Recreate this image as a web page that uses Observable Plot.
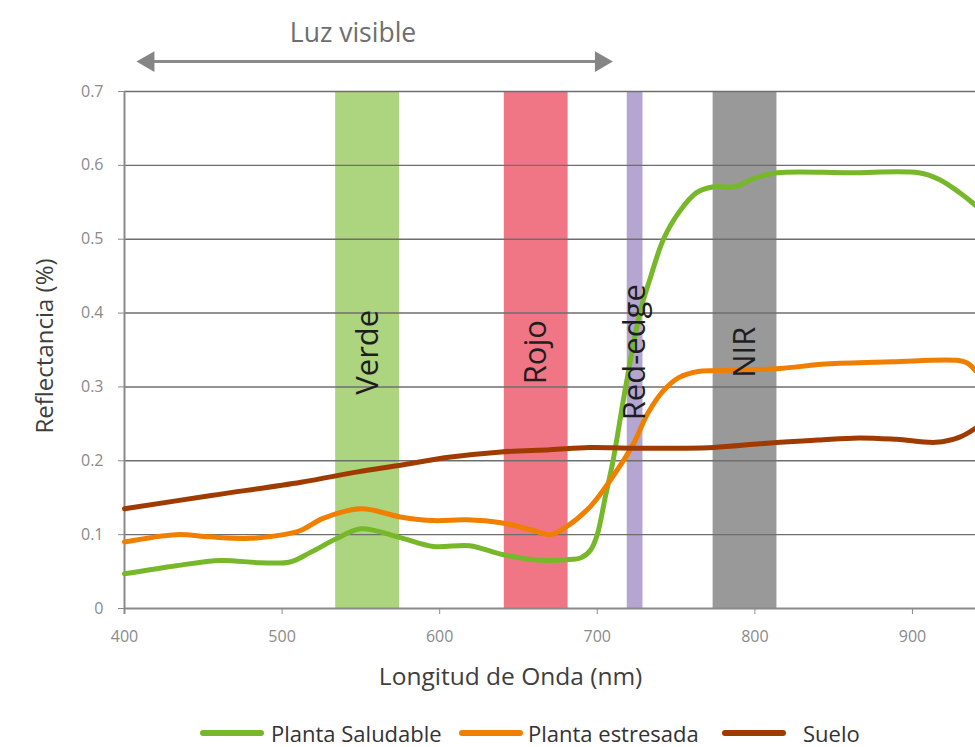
<!DOCTYPE html>
<html><head><meta charset="utf-8">
<script src="https://cdn.jsdelivr.net/npm/d3@7"></script>
<script src="https://cdn.jsdelivr.net/npm/@observablehq/plot@0.6"></script>
<style>
body{margin:0;background:#fff;font-family:"Open Sans",sans-serif;}
#legend{position:relative;height:42px;width:975px;}
.sw{position:absolute;height:6px;border-radius:3px;}
.lt{position:absolute;font-size:22px;color:#333;line-height:30px;white-space:nowrap;}
</style></head><body>
<div id="chart"></div>
<div id="legend"></div>
<script>
// ---- data ----
const xTicks = [400, 500, 600, 700, 800, 900];
const yTicks = [0, 0.1, 0.2, 0.3, 0.4, 0.5, 0.6, 0.7];

const seriesNames = ["Planta Saludable", "Planta estresada", "Suelo"];
const seriesColors = ["#77b82a", "#f07f00", "#a03b00"];

const bandNames = ["Verde", "Rojo", "Red-edge", "NIR"];
const bandStart = [534, 641, 719, 773.5];
const bandEnd = [574.5, 681.5, 729, 814];
const bandColors = ["#add47f", "#f07686", "#b4a5d1", "#999999"];

const saludableNm = [400, 433, 461, 486, 505, 518, 535, 550, 575, 596, 619, 638, 659, 680, 690, 696, 700, 705, 710, 718, 727, 734, 742, 752, 763, 774, 787, 799, 814, 860, 904, 917, 930, 940];
const saludableR  = [0.047, 0.058, 0.065, 0.062, 0.063, 0.076, 0.095, 0.108, 0.096, 0.084, 0.085, 0.074, 0.066, 0.066, 0.069, 0.08, 0.1, 0.15, 0.2, 0.3, 0.4, 0.45, 0.5, 0.537, 0.563, 0.571, 0.571, 0.582, 0.59, 0.59, 0.59, 0.581, 0.563, 0.546];

const estresadaNm = [400, 433, 454, 480, 501, 512, 526, 550, 575, 596, 617, 639, 659, 670, 680, 696, 709, 723, 732, 742, 752, 764, 774, 790, 816, 845, 887, 928, 935, 940];
const estresadaR  = [0.090, 0.100, 0.097, 0.095, 0.100, 0.106, 0.122, 0.135, 0.124, 0.119, 0.120, 0.116, 0.106, 0.100, 0.110, 0.139, 0.176, 0.223, 0.264, 0.295, 0.313, 0.321, 0.322, 0.323, 0.325, 0.331, 0.334, 0.336, 0.332, 0.322];

const sueloNm = [400, 455, 512, 548, 575, 607, 639, 670, 695, 722, 752, 774, 803, 816, 840, 866, 890, 915, 930, 940];
const sueloR  = [0.135, 0.153, 0.171, 0.185, 0.194, 0.205, 0.212, 0.215, 0.218, 0.217, 0.217, 0.218, 0.223, 0.225, 0.228, 0.231, 0.229, 0.225, 0.232, 0.244];

const visibleRange = [400, 710];

// ---- build tables ----
const seriesX = [saludableNm, estresadaNm, sueloNm];
const seriesY = [saludableR, estresadaR, sueloR];
const rows = seriesX.flatMap((xs, s) => xs.map((x, i) => ({s, x, y: seriesY[s][i]})));
const bands = bandNames.map((name, i) => ({name, x1: bandStart[i], x2: bandEnd[i], color: bandColors[i]}));

const font = '"Open Sans", sans-serif';
const topY1 = 0.7406;  // arrow row (above frame)
const topY2 = 0.778;   // "Luz visible" row

const chart = Plot.plot({
  width: 975,
  height: 705,
  marginTop: 91,
  marginBottom: 97,
  marginLeft: 124,
  marginRight: 0,
  style: {fontFamily: font, background: "white", overflow: "visible"},
  x: {domain: [400, 940]},
  y: {domain: [0, 0.7]},
  marks: [
    Plot.rect(bands, {x1: "x1", x2: "x2", y1: 0, y2: 0.7, fill: "color"}),
    Plot.ruleY(yTicks.filter(v => v > 0), {stroke: "#6e6e6e", strokeWidth: 1.4}),
    Plot.axisX({ticks: xTicks, tickSize: 6, tickPadding: 16, fontSize: 16, color: "#8a8a8a", label: null}),
    Plot.axisY({ticks: yTicks, tickSize: 6, tickPadding: 15, fontSize: 16, color: "#8a8a8a", label: null,
      tickFormat: d => d === 0 ? "0" : d.toFixed(1)}),
    Plot.ruleY([0], {stroke: "#8a8a8a", strokeWidth: 2}),
    Plot.ruleX([400], {y1: -0.008, y2: 0.7, stroke: "#8a8a8a", strokeWidth: 2}),
    Plot.line(rows, {x: "x", y: "y", z: "s", stroke: d => seriesColors[d.s], strokeWidth: 5, curve: "catmull-rom"}),
    Plot.text(bands, {x: d => (d.x1 + d.x2) / 2, y: 0.347, text: "name", rotate: -90, fontSize: 31, fill: "#1e1e1e"}),
    // Luz visible arrow
    Plot.link([visibleRange], {x1: d => d[0] + 15, x2: d => d[1] - 8, y1: topY1, y2: topY1, stroke: "#8a8a8a", strokeWidth: 3}),
    Plot.dot([visibleRange[0] + 15.2], {x: d => d, y: topY1, symbol: "triangle", r: 7.7, rotate: -90, fill: "#858585", stroke: null}),
    Plot.dot([visibleRange[1] - 7.7], {x: d => d, y: topY1, symbol: "triangle", r: 7.7, rotate: 90, fill: "#858585", stroke: null}),
    Plot.text(["Luz visible"], {x: 545, y: topY2, fontSize: 26.5, fill: "#6e6e6e"}),
    // axis titles
    Plot.text(["Longitud de Onda (nm)"], {x: 645, y: 0, dy: 69, fontSize: 24.5, fill: "#3e3e3e"}),
    Plot.text(["Reflectancia (%)"], {frameAnchor: "left", textAnchor: "middle", dx: -79, dy: -4, rotate: -90, fontSize: 24, fill: "#3e3e3e"})
  ]
});
document.getElementById("chart").appendChild(chart);

// ---- legend ----
const legendPos = [[200, 271], [459, 528], [722, 803]];
const leg = document.getElementById("legend");
seriesNames.forEach((name, i) => {
  const sw = document.createElement("div");
  sw.className = "sw";
  sw.style.left = legendPos[i][0] + "px";
  sw.style.width = "64px";
  sw.style.top = "25px";
  sw.style.background = seriesColors[i];
  leg.appendChild(sw);
  const t = document.createElement("div");
  t.className = "lt";
  t.style.left = legendPos[i][1] + "px";
  t.style.top = "13px";
  t.textContent = name;
  leg.appendChild(t);
});
</script>
</body></html>
